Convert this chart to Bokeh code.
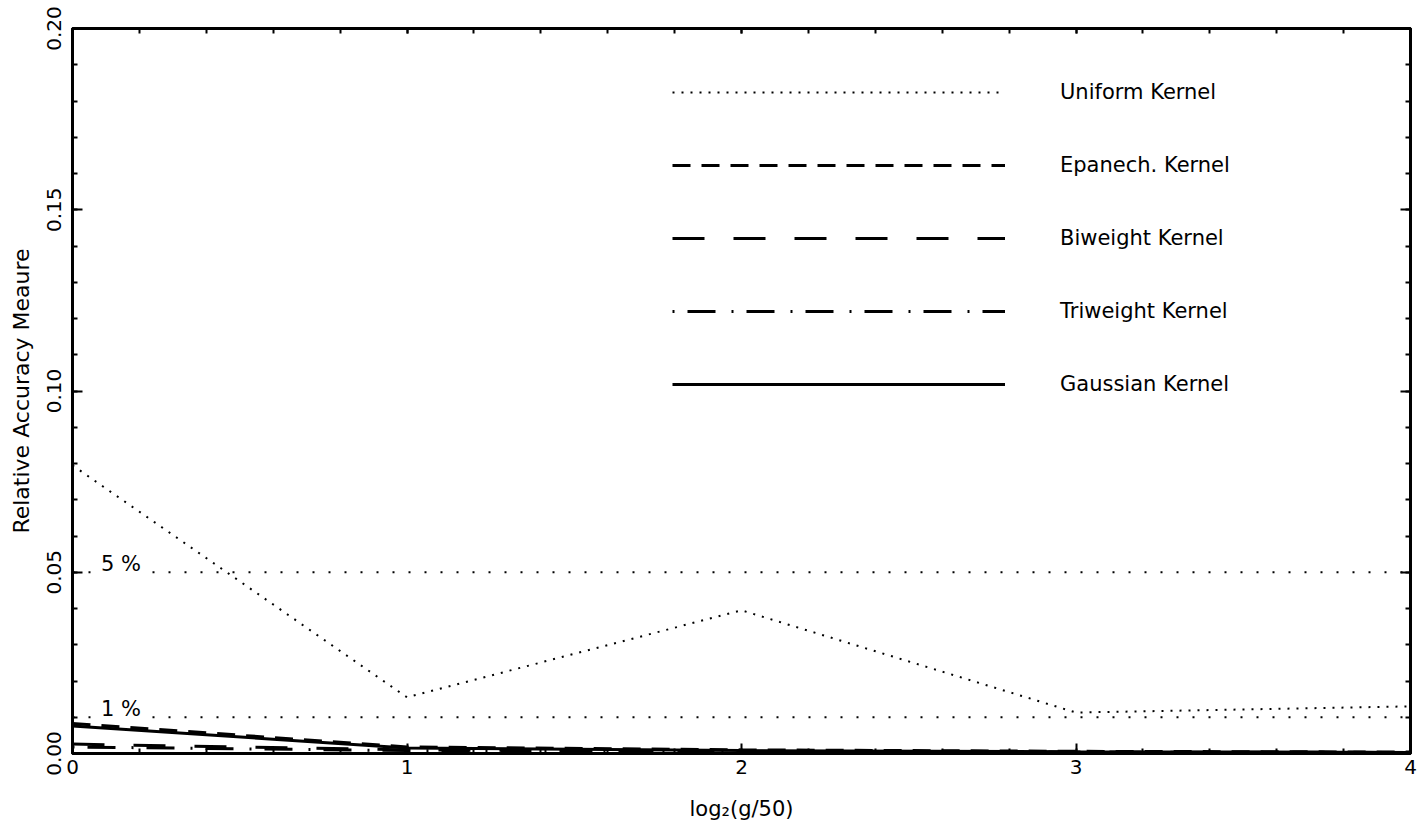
from bokeh.plotting import figure
from bokeh.models import (Span, LabelSet, ColumnDataSource, Legend, LegendItem,
                          LinearAxis, FixedTicker, Range1d)
from bokeh.core.properties import value
from bokeh.embed import file_html
from bokeh.resources import INLINE

# ---- data ----
x = [0, 1, 2, 3, 4]
uniform = [0.0795, 0.0155, 0.0395, 0.0113, 0.0130]
epanech = [0.0083, 0.0018, 0.0010, 0.0006, 0.0004]
biweight = [0.0026, 0.0010, 0.0006, 0.0004, 0.0003]
triweight = [0.0018, 0.0008, 0.0005, 0.0003, 0.0002]
gaussian = [0.0076, 0.0015, 0.0008, 0.0005, 0.0003]

ref_levels = [0.05, 0.01]
ref_labels = ["5 %", "1 %"]
ref_label_x = [0.085, 0.085]

x_ticks = [0, 1, 2, 3, 4]
y_ticks = [0.0, 0.05, 0.10, 0.15, 0.20]
y_tick_labels = {0.0: "0.00", 0.05: "0.05", 0.10: "0.10", 0.15: "0.15", 0.20: "0.20"}

FONT = "DejaVu Sans"

p = figure(width=1426, height=839, output_backend="svg", toolbar_location=None,
           x_range=Range1d(0, 4), y_range=Range1d(0, 0.2),
           min_border_left=72, min_border_right=16, min_border_top=28, min_border_bottom=86)
p.background_fill_color = "white"
p.border_fill_color = "white"
p.outline_line_color = "black"
p.outline_line_width = 3
p.grid.visible = False

def style_axis(ax):
    ax.axis_line_width = 3
    ax.axis_line_color = "black"
    ax.major_tick_in = 10
    ax.major_tick_out = 0
    ax.minor_tick_in = 5
    ax.minor_tick_out = 0
    ax.major_tick_line_width = 2
    ax.minor_tick_line_width = 2
    ax.major_label_text_font = FONT
    ax.major_label_text_font_size = "20px"
    ax.major_label_text_color = "black"
    ax.axis_label_text_font = FONT
    ax.axis_label_text_font_style = "normal"
    ax.axis_label_text_font_size = "21px"
    ax.axis_label_text_color = "black"

xa = p.xaxis[0]
ya = p.yaxis[0]
xa.ticker = FixedTicker(ticks=x_ticks, minor_ticks=[i * 0.2 for i in range(21)])
ya.ticker = FixedTicker(ticks=y_ticks, minor_ticks=[i * 0.01 for i in range(21)])
ya.major_label_overrides = y_tick_labels
ya.major_label_orientation = "vertical"
xa.axis_label = "log\u2082(g/50)"
ya.axis_label = "Relative Accuracy Meaure"
style_axis(xa)
style_axis(ya)
xa.major_label_standoff = 6
xa.axis_label_standoff = 20
ya.major_label_standoff = 12
ya.axis_label_standoff = 10
ya.axis_label_text_font_size = "22px"

top = LinearAxis(ticker=FixedTicker(ticks=x_ticks, minor_ticks=[i * 0.2 for i in range(21)]))
style_axis(top)
top.major_tick_in = 5
top.major_label_overrides = {t: "" for t in x_ticks}
top.major_label_standoff = 0
p.add_layout(top, "above")
right = LinearAxis(ticker=FixedTicker(ticks=y_ticks, minor_ticks=[i * 0.01 for i in range(21)]))
style_axis(right)
right.major_label_overrides = {t: "" for t in y_ticks}
right.major_label_standoff = 0
p.add_layout(right, "right")

# reference lines
for lv in ref_levels:
    p.add_layout(Span(location=lv, dimension="width", line_color="black",
                      line_width=2, line_dash="2 14"))

lbl_src = ColumnDataSource(dict(x=ref_label_x, y=ref_levels, t=ref_labels))
p.add_layout(LabelSet(x="x", y="y", text="t", source=lbl_src, text_font=value(FONT),
                      text_font_size=value("21px"), text_color="black",
                      text_baseline="alphabetic",
                      background_fill_color="white", y_offset=1))

# kernel lines
r_uni = p.line(x, uniform, line_color="black", line_width=2, line_dash="2 7")
r_epa = p.line(x, epanech, line_color="black", line_width=3, line_dash="18 11")
r_biw = p.line(x, biweight, line_color="black", line_width=3, line_dash="32 29")
r_tri = p.line(x, triweight, line_color="black", line_width=3, line_dash="2 13 28 16")
r_gau = p.line(x, gaussian, line_color="black", line_width=3)

legend = Legend(items=[
    LegendItem(label="Uniform Kernel", renderers=[r_uni]),
    LegendItem(label="Epanech. Kernel", renderers=[r_epa]),
    LegendItem(label="Biweight Kernel", renderers=[r_biw]),
    LegendItem(label="Triweight Kernel", renderers=[r_tri]),
    LegendItem(label="Gaussian Kernel", renderers=[r_gau]),
], location=(600, 354), glyph_width=333, glyph_height=30, label_height=30,
   spacing=43, label_standoff=55, padding=0, margin=0,
   label_text_font=FONT, label_text_font_size="21px", label_text_color="black",
   border_line_color=None, background_fill_alpha=0)
p.add_layout(legend, "center")

open("out.html", "w").write(file_html(p, INLINE))
